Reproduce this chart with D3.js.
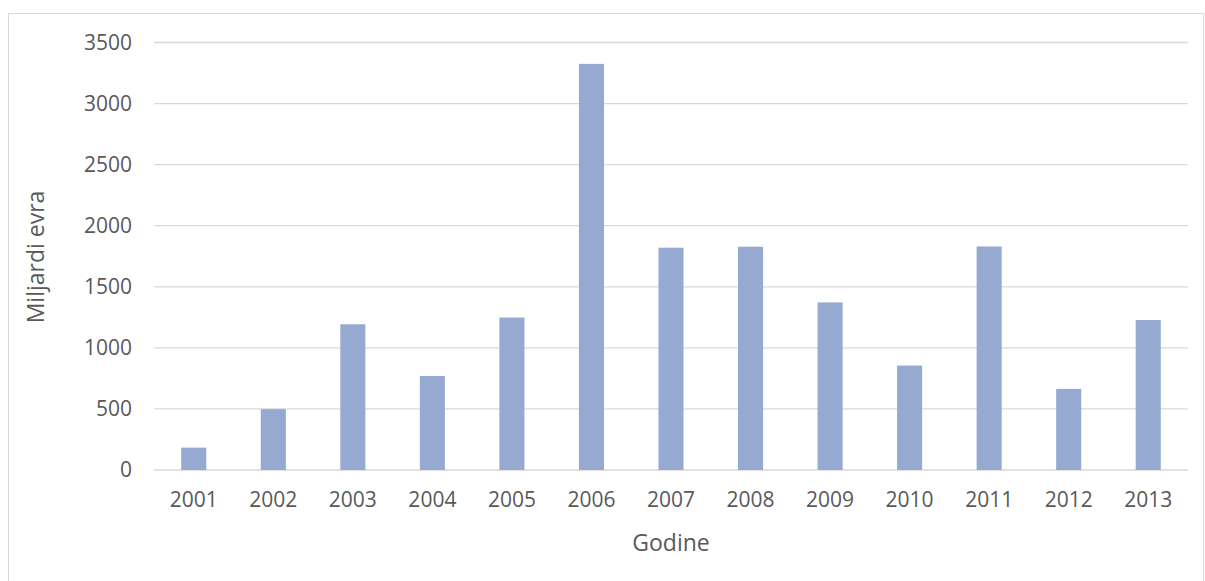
<!DOCTYPE html>
<html><head><meta charset="utf-8">
<script src="https://cdn.jsdelivr.net/npm/d3@7"></script>
<style>body{margin:0;background:#fff}svg{display:block}text{font-family:"Open Sans",sans-serif;fill:#595959}</style>
</head><body>
<svg id="c" width="1205" height="581"></svg>
<script>
const categories = ["2001","2002","2003","2004","2005","2006","2007","2008","2009","2010","2011","2012","2013"];
const values = [183, 498, 1193, 770, 1248, 3325, 1820, 1828, 1372, 855, 1830, 664, 1228];
const yTicks = [0, 500, 1000, 1500, 2000, 2500, 3000, 3500];
const yTitle = "Miljardi evra";
const xTitle = "Godine";

const svg = d3.select("#c");
svg.append("rect").attr("x",8.5).attr("y",13.5).attr("width",1195).attr("height",580)
  .attr("fill","none").attr("stroke","#d9d9d9");

const m = {l:154, r:1188, t:42.5, b:470};
const x = d3.scaleBand().domain(categories).range([m.l, m.r]).paddingInner(0.685).paddingOuter(0.3425);
const y = d3.scaleLinear().domain([0,3500]).range([m.b, m.t]);

svg.append("g").selectAll("line").data(yTicks).join("line")
  .attr("x1",m.l).attr("x2",m.r).attr("y1",d=>y(d)).attr("y2",d=>y(d))
  .attr("stroke","#d9d9d9").attr("stroke-width",1.3);

svg.append("g").selectAll("rect").data(values).join("rect")
  .attr("x",(d,i)=>x(categories[i])).attr("width",x.bandwidth())
  .attr("y",d=>y(d)).attr("height",d=>y(0)-y(d)).attr("fill","#95a9d1");

const yAxis = svg.append("g").attr("transform",`translate(${m.l},0)`)
  .call(d3.axisLeft(y).tickValues(yTicks).tickFormat(d3.format("d")).tickSize(0).tickPadding(22));
yAxis.select(".domain").remove();
yAxis.selectAll("text").attr("font-size",21).attr("fill","#595959").style("font-family","Open Sans");

const xAxis = svg.append("g").attr("transform",`translate(0,${m.b})`)
  .call(d3.axisBottom(x).tickSize(0).tickPadding(22));
xAxis.select(".domain").remove();
xAxis.selectAll("text").attr("font-size",21).attr("fill","#595959").style("font-family","Open Sans");

svg.append("text").attr("transform","translate(44,257) rotate(-90)").attr("text-anchor","middle")
  .attr("font-size",23).text(yTitle);
svg.append("text").attr("x",671).attr("y",551).attr("text-anchor","middle")
  .attr("font-size",23).text(xTitle);
</script>
</body></html>
